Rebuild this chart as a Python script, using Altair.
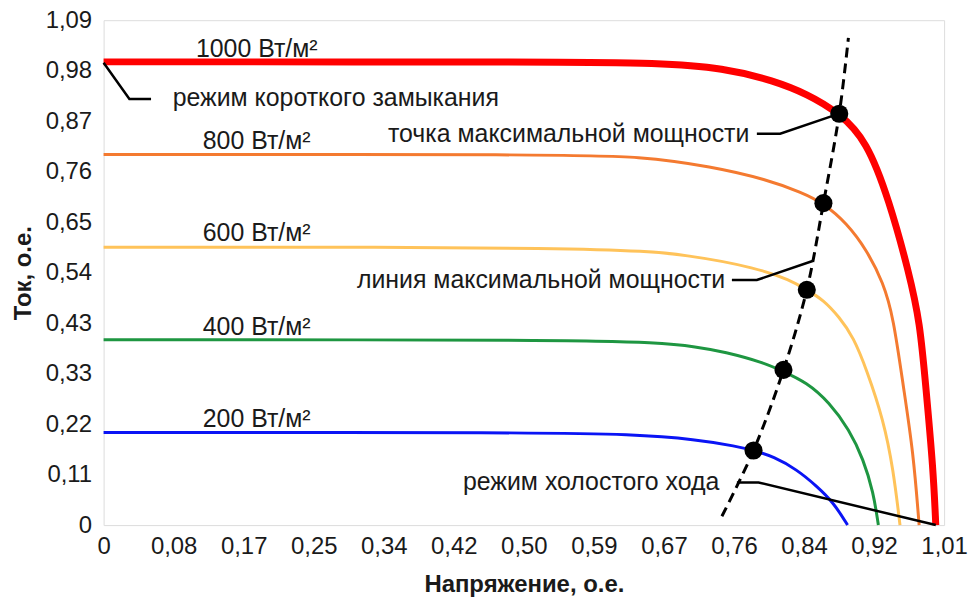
import altair as alt
import pandas as pd

# ---- axis tick labels ----
x_max = 1.01
y_max = 1.09
x_tick_labels = ["0", "0,08", "0,17", "0,25", "0,34", "0,42", "0,50", "0,59",
                 "0,67", "0,76", "0,84", "0,92", "1,01"]
y_tick_labels = ["0", "0,11", "0,22", "0,33", "0,43", "0,54", "0,65", "0,76",
                 "0,87", "0,98", "1,09"]

# ---- I-V curves (voltage, current), per irradiance ----
series_names = ["1000", "800", "600", "400", "200"]
series_colors = ["#FF0000", "#F47A30", "#FFC35A", "#1E9641", "#0A14F5"]

v1000 = [0, 0.546, 0.665, 0.746, 0.806, 0.845, 0.884, 0.917, 0.944, 0.968, 0.981, 0.988, 0.997, 1.0]
i1000 = [1.0, 1.0, 0.998, 0.987, 0.959, 0.931, 0.890, 0.830, 0.701, 0.544, 0.437, 0.299, 0.120, 0.0]

v800 = [0, 0.546, 0.645, 0.731, 0.797, 0.839, 0.865, 0.893, 0.917, 0.937, 0.949, 0.961, 0.973, 0.980]
i800 = [0.80, 0.80, 0.796, 0.774, 0.746, 0.718, 0.695, 0.652, 0.594, 0.523, 0.449, 0.299, 0.157, 0.0]

v600 = [0, 0.606, 0.705, 0.785, 0.825, 0.845, 0.865, 0.884, 0.901, 0.917, 0.937, 0.949, 0.957]
i600 = [0.60, 0.60, 0.583, 0.555, 0.529, 0.508, 0.486, 0.449, 0.406, 0.335, 0.228, 0.120, 0.0]

v400 = [0, 0.561, 0.665, 0.713, 0.746, 0.793, 0.815, 0.845, 0.872, 0.896, 0.913, 0.925, 0.931]
i400 = [0.40, 0.40, 0.394, 0.385, 0.374, 0.351, 0.333, 0.308, 0.265, 0.206, 0.142, 0.071, 0.0]

v200 = [0, 0.522, 0.633, 0.713, 0.761, 0.781, 0.805, 0.833, 0.857, 0.877, 0.894]
i200 = [0.20, 0.20, 0.196, 0.185, 0.170, 0.161, 0.148, 0.120, 0.084, 0.049, 0.0]

# ---- maximum power points ----
mpp_v = [0.884, 0.865, 0.845, 0.817, 0.781]
mpp_i = [0.888, 0.695, 0.508, 0.335, 0.161]

# ---- maximum power line (dashed, through the MPPs) ----
mpl_v = [0.743, 0.781, 0.817, 0.845, 0.865, 0.884, 0.895]
mpl_i = [0.019, 0.161, 0.335, 0.508, 0.695, 0.888, 1.052]

# ---- leader lines ----
lead_sc_v = [0.0, 0.031, 0.057]
lead_sc_i = [0.998, 0.920, 0.920]
lead_mpp_v = [0.785, 0.813, 0.877]
lead_mpp_i = [0.845, 0.845, 0.884]
lead_mpl_v = [0.755, 0.785, 0.852]
lead_mpl_i = [0.529, 0.529, 0.570]
lead_oc_v = [0.761, 0.787, 1.0]
lead_oc_i = [0.092, 0.092, 0.0]

# ---- text labels ----
irr_labels = ["1000 Вт/м²", "800 Вт/м²", "600 Вт/м²", "400 Вт/м²", "200 Вт/м²"]
irr_label_v = [0.184, 0.184, 0.184, 0.184, 0.184]
irr_label_i = [1.028, 0.830, 0.630, 0.428, 0.228]

left_notes = ["режим короткого замыкания"]
left_notes_v = [0.083]
left_notes_i = [0.923]

right_notes = ["точка максимальной мощности", "линия максимальной мощности", "режим холостого хода"]
right_notes_v = [0.776, 0.747, 0.740]
right_notes_i = [0.845, 0.529, 0.092]

FONT = "Liberation Sans"
TXT = "#1a1a1a"
FRAME = "#878787"

# ---- build tables ----
def line_df(vs, cs, g):
    return pd.DataFrame({"v": vs, "i": cs, "k": list(range(len(vs))), "g": g})

all_v = [v1000, v800, v600, v400, v200]
all_i = [i1000, i800, i600, i400, i200]
thick = line_df(v1000, i1000, "1000")
thin = pd.concat([line_df(v, c, n) for n, v, c in zip(series_names[1:], all_v[1:], all_i[1:])])

leaders = pd.concat([
    line_df(lead_sc_v, lead_sc_i, "sc"),
    line_df(lead_mpp_v, lead_mpp_i, "mpp"),
    line_df(lead_mpl_v, lead_mpl_i, "mpl"),
    line_df(lead_oc_v, lead_oc_i, "oc"),
])
mpl = line_df(mpl_v, mpl_i, "mpl")
mpp = pd.DataFrame({"v": mpp_v, "i": mpp_i})
irr = pd.DataFrame({"t": irr_labels, "v": irr_label_v, "i": irr_label_i})
lnotes = pd.DataFrame({"t": left_notes, "v": left_notes_v, "i": left_notes_i})
rnotes = pd.DataFrame({"t": right_notes, "v": right_notes_v, "i": right_notes_i})

x_step = x_max / (len(x_tick_labels) - 1)
y_step = y_max / (len(y_tick_labels) - 1)
x_vals = [k * x_step for k in range(len(x_tick_labels))]
y_vals = [k * y_step for k in range(len(y_tick_labels))]
x_expr = "[" + ",".join('"%s"' % s for s in x_tick_labels) + "][round(datum.value/%r)]" % x_step
y_expr = "[" + ",".join('"%s"' % s for s in y_tick_labels) + "][round(datum.value/%r)]" % y_step

xs = alt.Scale(domain=[0, x_max], nice=False, zero=False)
ys = alt.Scale(domain=[0, y_max], nice=False, zero=False)

X = alt.X("v:Q", scale=xs, axis=alt.Axis(
    title="Напряжение, о.е.", values=x_vals, labelExpr=x_expr, grid=False,
    ticks=False, tickSize=0, domain=False, labelPadding=10, titlePadding=14,
    labelFontSize=24, titleFontSize=24, titleFontWeight="bold",
    labelColor=TXT, titleColor=TXT, labelFont=FONT, titleFont=FONT,
    labelFlush=False, labelOverlap=False))
Y = alt.Y("i:Q", scale=ys, axis=alt.Axis(
    title="Ток, о.е.", values=y_vals, labelExpr=y_expr, grid=False,
    ticks=False, tickSize=0, domain=False, labelPadding=12, titlePadding=10,
    labelFontSize=24, titleFontSize=24, titleFontWeight="bold",
    labelColor=TXT, titleColor=TXT, labelFont=FONT, titleFont=FONT,
    labelFlush=False, labelOverlap=False))

color = alt.Color("g:N", scale=alt.Scale(domain=series_names, range=series_colors), legend=None)

thin_layer = alt.Chart(thin).mark_line(interpolate="basis", strokeWidth=3).encode(
    x=X, y=Y, color=color, order="k:Q", detail="g:N")
thick_layer = alt.Chart(thick).mark_line(interpolate="basis", strokeWidth=7).encode(
    x="v:Q", y="i:Q", color=color, order="k:Q")

mpl_layer = alt.Chart(mpl).mark_line(color="black", strokeWidth=3, strokeDash=[10, 6],
                                     interpolate="catmull-rom").encode(
    x="v:Q", y="i:Q", order="k:Q")

lead_layer = alt.Chart(leaders).mark_line(color="black", strokeWidth=2.5).encode(
    x="v:Q", y="i:Q", detail="g:N", order="k:Q")

dot_layer = alt.Chart(mpp).mark_circle(color="black", size=330, opacity=1).encode(
    x="v:Q", y="i:Q")

irr_layer = alt.Chart(irr).mark_text(font=FONT, fontSize=25, color=TXT, align="center",
                                     baseline="middle").encode(x="v:Q", y="i:Q", text="t:N")
lnote_layer = alt.Chart(lnotes).mark_text(font=FONT, fontSize=25, color=TXT, align="left",
                                          baseline="middle").encode(x="v:Q", y="i:Q", text="t:N")
rnote_layer = alt.Chart(rnotes).mark_text(font=FONT, fontSize=25, color=TXT, align="right",
                                          baseline="middle").encode(x="v:Q", y="i:Q", text="t:N")

chart = alt.layer(
    thin_layer, thick_layer, mpl_layer, lead_layer, dot_layer, irr_layer, lnote_layer, rnote_layer
).properties(
    width=844, height=507,
    padding={"left": 96, "top": 11, "right": 24, "bottom": 75},
    autosize=alt.AutoSizeParams(type="none"),
    background="white",
).configure_view(
    stroke=FRAME, strokeWidth=1.5
).configure(font=FONT)

chart.save("out.html", embed_options={"renderer": "svg", "actions": False})
